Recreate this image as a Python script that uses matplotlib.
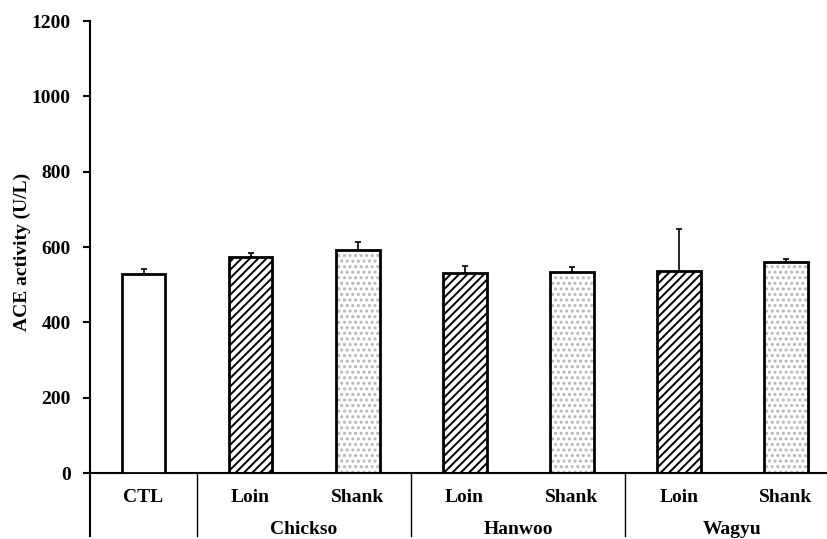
import matplotlib
matplotlib.use("Agg")
import matplotlib.pyplot as plt
import numpy as np
from matplotlib.transforms import blended_transform_factory

plt.rcParams['font.family'] = ['Liberation Serif', 'DejaVu Serif']
plt.rcParams['font.weight'] = 'bold'
plt.rcParams['hatch.linewidth'] = 1.4

# Data
categories = ["CTL", "Loin", "Shank", "Loin", "Shank", "Loin", "Shank"]
groups = ["Chickso", "Hanwoo", "Wagyu"]
values = [529, 574, 592, 530, 534, 536, 559]
errors = [12, 11, 20, 19, 14, 111, 9]
patterns = ["none", "loin", "shank", "loin", "shank", "loin", "shank"]
yticks = [0, 200, 400, 600, 800, 1000, 1200]

FS = 14
fig = plt.figure(figsize=(8.27, 5.39), dpi=100)
ax = fig.add_axes([90/827, (539-473)/539, 1 - 90/827, (473-21)/539])

x = np.arange(len(categories))
w = 0.41
for xi, v, p in zip(x, values, patterns):
    if p == "loin":
        ax.bar(xi, v, w, facecolor="white", edgecolor="black", hatch="////", linewidth=0, zorder=2)
    elif p == "shank":
        ax.bar(xi, v, w, facecolor="white", edgecolor="#b5b5b5", hatch="...", linewidth=0, zorder=2)
    ax.bar(xi, v, w, facecolor="none" if p != "none" else "white", edgecolor="black", linewidth=2.0, zorder=3)

ax.errorbar(x, values, yerr=[np.zeros(len(errors)), errors], fmt="none", ecolor="black",
            elinewidth=1.2, capsize=2, capthick=1.2, zorder=1)

ax.set_xlim(-0.5, (827 - 143.7) / 107)
ax.set_ylim(0, 1200)
ax.set_yticks(yticks)
ax.set_yticklabels([str(t) for t in yticks], fontsize=FS, fontweight="bold")
ax.tick_params(axis="y", direction="out", length=5, width=1.5, pad=9)
ax.set_xticks([])
for s in ["top", "right", "left"]:
    ax.spines[s].set_visible(False)
ax.spines["bottom"].set_linewidth(1.5)

ax.set_ylabel("ACE activity (U/L)", fontsize=FS, fontweight="bold", va="center")
ax.yaxis.set_label_coords((22 - 90) / 737, 0.49)

trans = blended_transform_factory(ax.transData, ax.transAxes)
ext = -63 / 452
# y axis line extending below
ax.plot([0, 0], [ext, 1], transform=ax.transAxes, color="black", lw=1.5, clip_on=False)
for sx in [0.5, 2.5, 4.5]:
    ax.plot([sx, sx], [ext, 0], transform=trans, color="black", lw=1.0, clip_on=False)

for xi, c in zip(x, categories):
    ax.text(xi, -24 / 452, c, transform=trans, ha="center", va="center", fontsize=FS, fontweight="bold")
for gi, g in enumerate(groups):
    ax.text(1.5 + 2 * gi, -57 / 452, g, transform=trans, ha="center", va="center", fontsize=FS, fontweight="bold")

fig.savefig("out.png", dpi=100)
